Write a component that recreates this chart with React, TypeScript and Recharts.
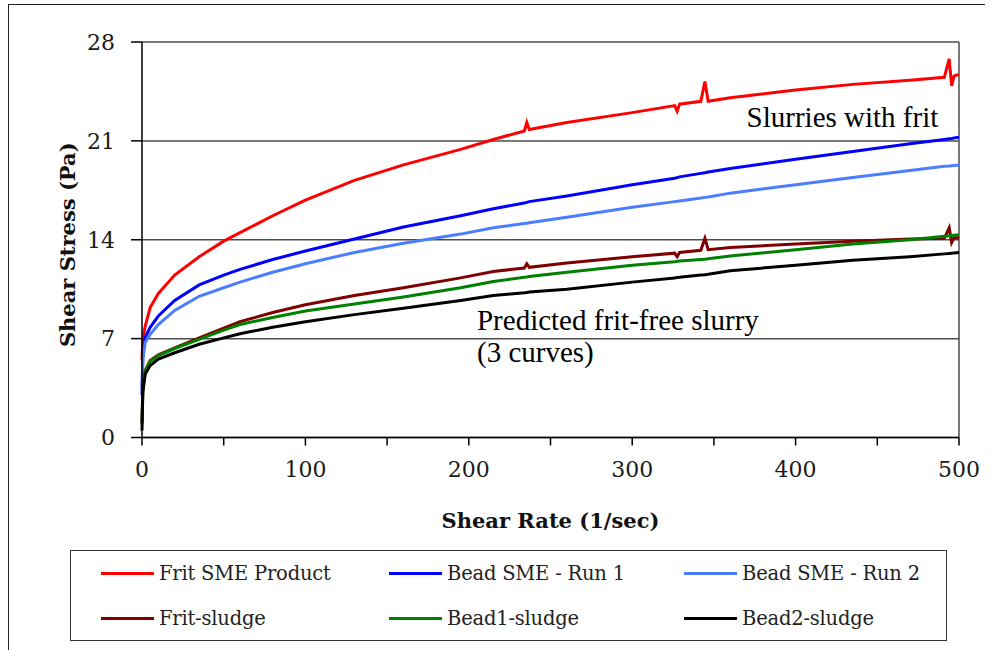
import {
  LineChart,
  Line,
  XAxis,
  YAxis,
  CartesianGrid,
  Legend,
  ReferenceLine,
  ReferenceDot,
  Label,
} from "recharts";

// shear rate (1/sec) sample points shared by all curves
const shearRate = [
  0, 0.5, 2, 5, 10, 20, 35, 50, 60, 80, 100, 130, 160, 195, 215, 234, 235.5,
  237, 260, 300, 326, 327.5, 329, 342, 344.5, 346.5, 360, 400, 435, 470, 491,
  494, 495.5, 497, 500,
];

// shear stress (Pa)
const fritSme = [
  5.5, 7.0, 7.9, 9.2, 10.2, 11.5, 12.8, 13.9, 14.5, 15.7, 16.8, 18.2, 19.3,
  20.4, 21.1, 21.7, 22.3, 21.8, 22.3, 23.0, 23.5, 23.1, 23.6, 23.8, 25.2, 23.8,
  24.05, 24.6, 25.0, 25.3, 25.5, 26.8, 24.9, 25.6, 25.7,
];
const beadRun1 = [
  3.0, 5.8, 7.1, 7.8, 8.6, 9.7, 10.8, 11.5, 11.9, 12.6, 13.2, 14.05, 14.9,
  15.7, 16.2, 16.6, 16.65, 16.7, 17.1, 17.9, 18.35, 18.4, 18.45, 18.7, 18.75,
  18.8, 19.05, 19.7, 20.25, 20.8, 21.1, 21.15, 21.17, 21.2, 21.25,
];
const beadRun2 = [
  3.5, 5.5, 6.75, 7.3, 8.0, 9.0, 10.0, 10.6, 11.0, 11.7, 12.3, 13.1, 13.75,
  14.4, 14.85, 15.15, 15.17, 15.2, 15.6, 16.3, 16.7, 16.72, 16.75, 16.95, 17.0,
  17.03, 17.3, 17.9, 18.4, 18.9, 19.2, 19.22, 19.24, 19.26, 19.3,
];
const fritSludge = [
  1.0, 3.6, 4.75, 5.45, 5.85, 6.35, 7.05, 7.75, 8.2, 8.85, 9.4, 10.05, 10.6,
  11.3, 11.75, 12.0, 12.3, 12.05, 12.35, 12.8, 13.05, 12.8, 13.1, 13.25, 14.1,
  13.3, 13.45, 13.7, 13.9, 14.05, 14.1, 14.85, 13.8, 14.15, 14.15,
];
const bead1Sludge = [
  1.0, 3.5, 4.7, 5.4, 5.8, 6.3, 6.95, 7.6, 8.0, 8.5, 8.95, 9.45, 9.95, 10.6,
  11.05, 11.35, 11.37, 11.4, 11.7, 12.2, 12.45, 12.47, 12.5, 12.6, 12.62, 12.65,
  12.85, 13.3, 13.7, 14.0, 14.25, 14.28, 14.3, 14.32, 14.35,
];
const bead2Sludge = [
  0.5, 3.2, 4.5, 5.1, 5.55, 6.0, 6.6, 7.05, 7.35, 7.8, 8.2, 8.7, 9.15, 9.7,
  10.05, 10.25, 10.27, 10.3, 10.5, 11.0, 11.3, 11.32, 11.34, 11.5, 11.53, 11.56,
  11.8, 12.2, 12.55, 12.8, 13.0, 13.03, 13.05, 13.07, 13.1,
];

const xTicks = [0, 50, 100, 150, 200, 250, 300, 350, 400, 450, 500];
const yTicks = [0, 7, 14, 21, 28];

const series = [
  { key: "fritSme", name: "Frit SME Product", color: "#ff0000", values: fritSme },
  { key: "beadRun1", name: "Bead SME - Run 1", color: "#0000ff", values: beadRun1 },
  { key: "beadRun2", name: "Bead SME - Run 2", color: "#4a7dff", values: beadRun2 },
  { key: "fritSludge", name: "Frit-sludge", color: "#800000", values: fritSludge },
  { key: "bead1Sludge", name: "Bead1-sludge", color: "#008000", values: bead1Sludge },
  { key: "bead2Sludge", name: "Bead2-sludge", color: "#000000", values: bead2Sludge },
];

const rows = shearRate.map((x, i) => {
  const row: Record<string, number> = { x };
  series.forEach((s) => (row[s.key] = s.values[i]));
  return row;
});

const serif = "'DejaVu Serif', serif";
const times = "'Liberation Serif', 'Times New Roman', serif";

/** 범례: 3열 2행 박스 */
const LegendBox = () => {
  const colX = [30, 318, 613];
  const rowY = [22, 67];
  return (
    <div
      style={{
        position: "relative",
        width: 877,
        height: 91,
        border: "1.5px solid #333",
        boxSizing: "border-box",
        background: "#fff",
      }}
    >
      {series.map((s, i) => (
        <div
          key={s.key}
          style={{
            position: "absolute",
            left: colX[i % 3],
            top: rowY[Math.floor(i / 3)] - 14,
            height: 28,
            display: "flex",
            alignItems: "center",
            whiteSpace: "nowrap",
          }}
        >
          <span
            style={{ display: "inline-block", width: 53, height: 3, background: s.color }}
          />
          <span
            style={{
              marginLeft: 5,
              fontFamily: serif,
              fontSize: 19.5,
              letterSpacing: -0.2,
              color: "#222",
            }}
          >
            {s.name}
          </span>
        </div>
      ))}
    </div>
  );
};

const Note = ({ viewBox, text }: any) => (
  <text
    x={viewBox.x}
    y={viewBox.y}
    fontFamily={times}
    fontSize={29}
    fill="#000"
  >
    {text}
  </text>
);

const YTitle = ({ viewBox }: any) => {
  const cx = 75;
  const cy = viewBox.y + viewBox.height / 2 + 5;
  return (
    <text
      x={cx}
      y={cy}
      transform={`rotate(-90 ${cx} ${cy})`}
      textAnchor="middle"
      fontFamily={serif}
      fontWeight="bold"
      fontSize={21}
      fill="#111"
    >
      Shear Stress (Pa)
    </text>
  );
};

const tickStyle = {
  fontFamily: serif,
  fontSize: 22,
  fill: "#1a1a1a",
};

export default function App() {
  return (
    <div style={{ position: "absolute", left: 0, top: 0, width: 995, height: 650 }}>
      <div
        style={{
          position: "absolute",
          left: 8,
          top: 4,
          width: 977,
          height: 646,
          borderTop: "1.5px solid #222",
          borderLeft: "1.5px solid #222",
          boxSizing: "border-box",
        }}
      />
      <div style={{ position: "absolute", left: 0, top: 0 }}>
        <LineChart
          width={995}
          height={650}
          data={rows}
          margin={{ top: 42, right: 36, left: 82, bottom: 142.5 }}
        >
          <CartesianGrid
            vertical={false}
            stroke="#4d4d4d"
            strokeWidth={1.5}
          />
          <XAxis
            dataKey="x"
            type="number"
            domain={[0, 500]}
            ticks={xTicks}
            interval={0}
            height={70}
            tickSize={8}
            tickMargin={16}
            tick={tickStyle}
            tickFormatter={(v) => (v % 100 === 0 ? String(v) : "")}
            stroke="#000"
            strokeWidth={1.5}
          >
            <Label
              value="Shear Rate (1/sec)"
              position="bottom"
              offset={5.5}
              style={{
                fontFamily: serif,
                fontWeight: "bold",
                fontSize: 21,
                fill: "#111",
              }}
            />
          </XAxis>
          <YAxis
            type="number"
            domain={[0, 28]}
            ticks={yTicks}
            interval={0}
            width={60}
            tickSize={11}
            tickMargin={16}
            tick={tickStyle}
            stroke="#000"
            strokeWidth={1.5}
            label={{ content: YTitle }}
          />
          <ReferenceLine x={500} stroke="#4d4d4d" strokeWidth={1.5} />
          {series.map((s) => (
            <Line
              key={s.key}
              type="linear"
              dataKey={s.key}
              name={s.name}
              stroke={s.color}
              strokeWidth={3}
              dot={false}
              isAnimationActive={false}
            />
          ))}
          <ReferenceDot
            x={370}
            y={22}
            r={0}
            label={<Note text="Slurries with frit" />}
          />
          <ReferenceDot
            x={205}
            y={7.6}
            r={0}
            label={<Note text="Predicted frit-free slurry" />}
          />
          <ReferenceDot
            x={205}
            y={5.37}
            r={0}
            label={<Note text="(3 curves)" />}
          />
          <Legend
            layout="horizontal"
            verticalAlign="middle"
            align="center"
            wrapperStyle={{ left: 70, top: 550, width: 877, height: 91 }}
            content={<LegendBox />}
          />
        </LineChart>
      </div>
    </div>
  );
}
